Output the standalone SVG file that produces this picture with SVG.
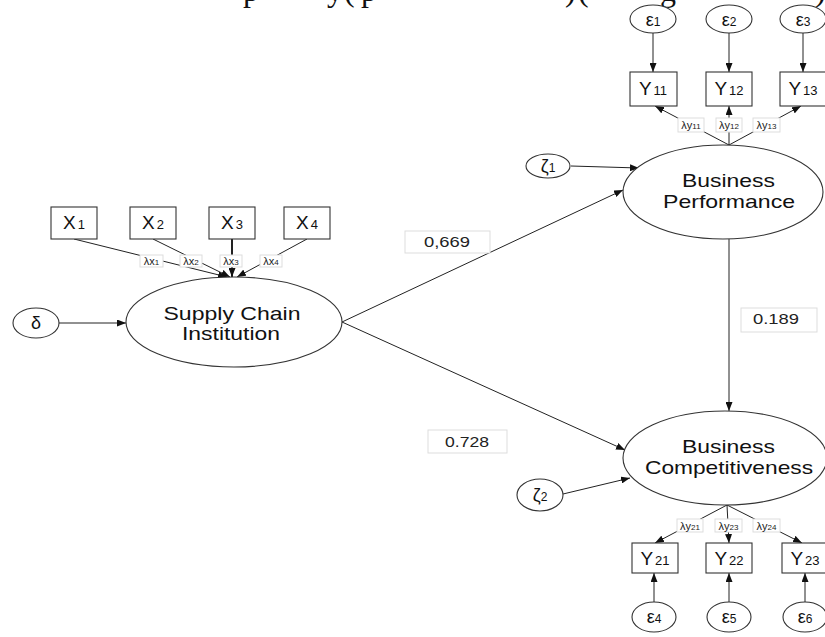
<svg xmlns="http://www.w3.org/2000/svg" width="825" height="637" viewBox="0 0 825 637">
<defs>
<marker id="ah" markerWidth="9" markerHeight="7" refX="9" refY="3.5" orient="auto" markerUnits="userSpaceOnUse">
<path d="M0,0 L9,3.5 L0,7 z" fill="#111"/>
</marker>
<style>
.ln{stroke:#222;stroke-width:1;fill:none;marker-end:url(#ah)}
.el{fill:#fff;stroke:#333;stroke-width:1.1}
.bx{fill:#fff;stroke:#333;stroke-width:1.1}
.lb{fill:#fff;stroke:#ddd;stroke-width:1}
.t{font-family:"Liberation Sans",Arial,sans-serif;fill:#111}
.big{font-size:19px;text-anchor:middle}
.var{font-size:19px;text-anchor:middle}
.sub{font-size:13px}
.gr{font-size:18px;text-anchor:middle}
.gsub{font-size:12px}
.lam{font-size:11px;text-anchor:middle;fill:#222}
.lsub{font-size:8px}
.num{font-size:15px;text-anchor:middle;fill:#222}
.top{font-family:"Liberation Serif","Times New Roman",serif;font-size:32px;fill:#111}
</style>
</defs>
<rect width="825" height="637" fill="#fff"/>
<text class="top" y="1"><tspan x="243">p</tspan><tspan x="327">y</tspan><tspan x="344">(</tspan><tspan x="361">p</tspan><tspan x="565">)</tspan><tspan x="578">(</tspan><tspan x="660">g</tspan><tspan x="815">)</tspan></text>
<g id="connectors">
<line class="ln" x1="653" y1="33" x2="653" y2="72"/>
<line class="ln" x1="729" y1="33" x2="729" y2="72"/>
<line class="ln" x1="803" y1="33" x2="803" y2="72"/>
<line class="ln" x1="729" y1="145" x2="655" y2="106"/>
<line class="ln" x1="729" y1="145" x2="729" y2="106"/>
<line class="ln" x1="729" y1="145" x2="801" y2="106"/>
<line class="ln" x1="571" y1="166" x2="639" y2="168"/>
<line class="ln" x1="342" y1="322" x2="623" y2="190"/>
<line class="ln" x1="342" y1="322" x2="625" y2="450"/>
<line class="ln" x1="729" y1="239" x2="729" y2="411"/>
<line class="ln" x1="563" y1="494" x2="630" y2="478"/>
<line class="ln" x1="59" y1="323" x2="126" y2="323"/>
<line class="ln" x1="74" y1="239" x2="227" y2="277"/>
<line class="ln" x1="153" y1="239" x2="230" y2="277"/>
<line class="ln" x1="232" y1="239" x2="232" y2="277" style="stroke-width:2"/>
<line class="ln" x1="307" y1="239" x2="237" y2="277"/>
<line class="ln" x1="727" y1="505" x2="655" y2="543"/>
<line class="ln" x1="727" y1="505" x2="729" y2="543"/>
<line class="ln" x1="727" y1="505" x2="802" y2="543"/>
<line class="ln" x1="654" y1="602" x2="654" y2="573"/>
<line class="ln" x1="729" y1="602" x2="729" y2="573"/>
<line class="ln" x1="805" y1="602" x2="805" y2="573"/>
</g>
<g id="loading-labels">
<rect class="lb" x="140" y="255" width="23" height="12"/><text class="t lam" x="151.5" y="265">λx<tspan class="lsub">1</tspan></text>
<rect class="lb" x="180" y="255" width="22" height="12"/><text class="t lam" x="191" y="265">λx<tspan class="lsub">2</tspan></text>
<rect class="lb" x="220" y="255" width="22" height="12"/><text class="t lam" x="231" y="265">λx<tspan class="lsub">3</tspan></text>
<rect class="lb" x="260" y="255" width="22" height="12"/><text class="t lam" x="271" y="265">λx<tspan class="lsub">4</tspan></text>
<rect class="lb" x="678" y="118" width="26" height="14"/><text class="t lam" x="691" y="129">λy<tspan class="lsub">11</tspan></text>
<rect class="lb" x="716" y="118" width="26" height="14"/><text class="t lam" x="729" y="129">λy<tspan class="lsub">12</tspan></text>
<rect class="lb" x="753" y="118" width="27" height="14"/><text class="t lam" x="766.5" y="129">λy<tspan class="lsub">13</tspan></text>
<rect class="lb" x="677" y="519" width="26" height="13"/><text class="t lam" x="690" y="529.5">λy<tspan class="lsub">21</tspan></text>
<rect class="lb" x="715" y="519" width="27" height="13"/><text class="t lam" x="728.5" y="529.5">λy<tspan class="lsub">23</tspan></text>
<rect class="lb" x="753" y="519" width="27" height="13"/><text class="t lam" x="766.5" y="529.5">λy<tspan class="lsub">24</tspan></text>
</g>
<g id="coef-0669"><rect class="lb" x="405" y="231" width="85" height="22"/><text class="t num" x="447" y="247" textLength="46" lengthAdjust="spacingAndGlyphs">0,669</text></g>
<g id="coef-0728"><rect class="lb" x="428" y="430" width="79" height="23"/><text class="t num" x="467" y="447" textLength="44" lengthAdjust="spacingAndGlyphs">0.728</text></g>
<g id="coef-0189"><rect class="lb" x="741" y="308" width="76" height="24"/><text class="t num" x="776" y="324" textLength="46" lengthAdjust="spacingAndGlyphs">0.189</text></g>
<g id="SCI"><ellipse class="el" cx="234" cy="322" rx="108" ry="45"/>
<text class="t big" x="232" y="320" textLength="137" lengthAdjust="spacingAndGlyphs">Supply Chain</text>
<text class="t big" x="231" y="340" textLength="98" lengthAdjust="spacingAndGlyphs">Institution</text></g>
<g id="BP"><ellipse class="el" cx="723" cy="192" rx="100" ry="47"/>
<text class="t big" x="728.5" y="187" textLength="93" lengthAdjust="spacingAndGlyphs">Business</text>
<text class="t big" x="729" y="208" textLength="132" lengthAdjust="spacingAndGlyphs">Performance</text></g>
<g id="BC"><ellipse class="el" cx="725" cy="458" rx="102" ry="47"/>
<text class="t big" x="728.5" y="453" textLength="93" lengthAdjust="spacingAndGlyphs">Business</text>
<text class="t big" x="729" y="474" textLength="168" lengthAdjust="spacingAndGlyphs">Competitiveness</text></g>
<g id="delta"><ellipse class="el" cx="36" cy="323" rx="23" ry="15"/><text class="t gr" x="36" y="329">δ</text></g>
<g id="zeta1"><ellipse class="el" cx="548" cy="166" rx="22" ry="12"/><text class="t gr" x="548" y="172">ζ<tspan class="gsub">1</tspan></text></g>
<g id="zeta2"><ellipse class="el" cx="540" cy="495" rx="23" ry="16"/><text class="t gr" x="540" y="501">ζ<tspan class="gsub">2</tspan></text></g>
<g id="X1"><rect class="bx" x="51" y="207" width="46" height="32"/><text class="t var" x="74" y="229">X<tspan class="sub" dx="2">1</tspan></text></g>
<g id="X2"><rect class="bx" x="130" y="207" width="46" height="32"/><text class="t var" x="153" y="229">X<tspan class="sub" dx="2">2</tspan></text></g>
<g id="X3"><rect class="bx" x="209" y="207" width="46" height="32"/><text class="t var" x="232" y="229">X<tspan class="sub" dx="2">3</tspan></text></g>
<g id="X4"><rect class="bx" x="284" y="207" width="46" height="32"/><text class="t var" x="307" y="229">X<tspan class="sub" dx="2">4</tspan></text></g>
<g id="e1"><ellipse class="el" cx="653" cy="19" rx="23" ry="14"/><text class="t gr" x="653" y="26">ε<tspan class="gsub">1</tspan></text></g>
<g id="e2"><ellipse class="el" cx="729" cy="19" rx="23" ry="14"/><text class="t gr" x="729" y="26">ε<tspan class="gsub">2</tspan></text></g>
<g id="e3"><ellipse class="el" cx="803" cy="19" rx="23" ry="14"/><text class="t gr" x="803" y="26">ε<tspan class="gsub">3</tspan></text></g>
<g id="Y11"><rect class="bx" x="630" y="72" width="47" height="34"/><text class="t var" x="653" y="95">Y<tspan class="sub" dx="2">11</tspan></text></g>
<g id="Y12"><rect class="bx" x="706" y="72" width="46" height="34"/><text class="t var" x="729" y="95">Y<tspan class="sub" dx="2">12</tspan></text></g>
<g id="Y13"><rect class="bx" x="780" y="72" width="46" height="34"/><text class="t var" x="803" y="95">Y<tspan class="sub" dx="2">13</tspan></text></g>
<g id="Y21"><rect class="bx" x="632" y="543" width="46" height="30"/><text class="t var" x="655" y="565">Y<tspan class="sub" dx="2">21</tspan></text></g>
<g id="Y22"><rect class="bx" x="706" y="543" width="46" height="30"/><text class="t var" x="729" y="565">Y<tspan class="sub" dx="2">22</tspan></text></g>
<g id="Y23"><rect class="bx" x="782" y="543" width="46" height="30"/><text class="t var" x="805" y="565">Y<tspan class="sub" dx="2">23</tspan></text></g>
<g id="e4"><ellipse class="el" cx="654" cy="617" rx="22" ry="15"/><text class="t gr" x="654" y="623">ε<tspan class="gsub">4</tspan></text></g>
<g id="e5"><ellipse class="el" cx="729" cy="617" rx="22" ry="15"/><text class="t gr" x="729" y="623">ε<tspan class="gsub">5</tspan></text></g>
<g id="e6"><ellipse class="el" cx="805" cy="617" rx="22" ry="15"/><text class="t gr" x="805" y="623">ε<tspan class="gsub">6</tspan></text></g>
</svg>
